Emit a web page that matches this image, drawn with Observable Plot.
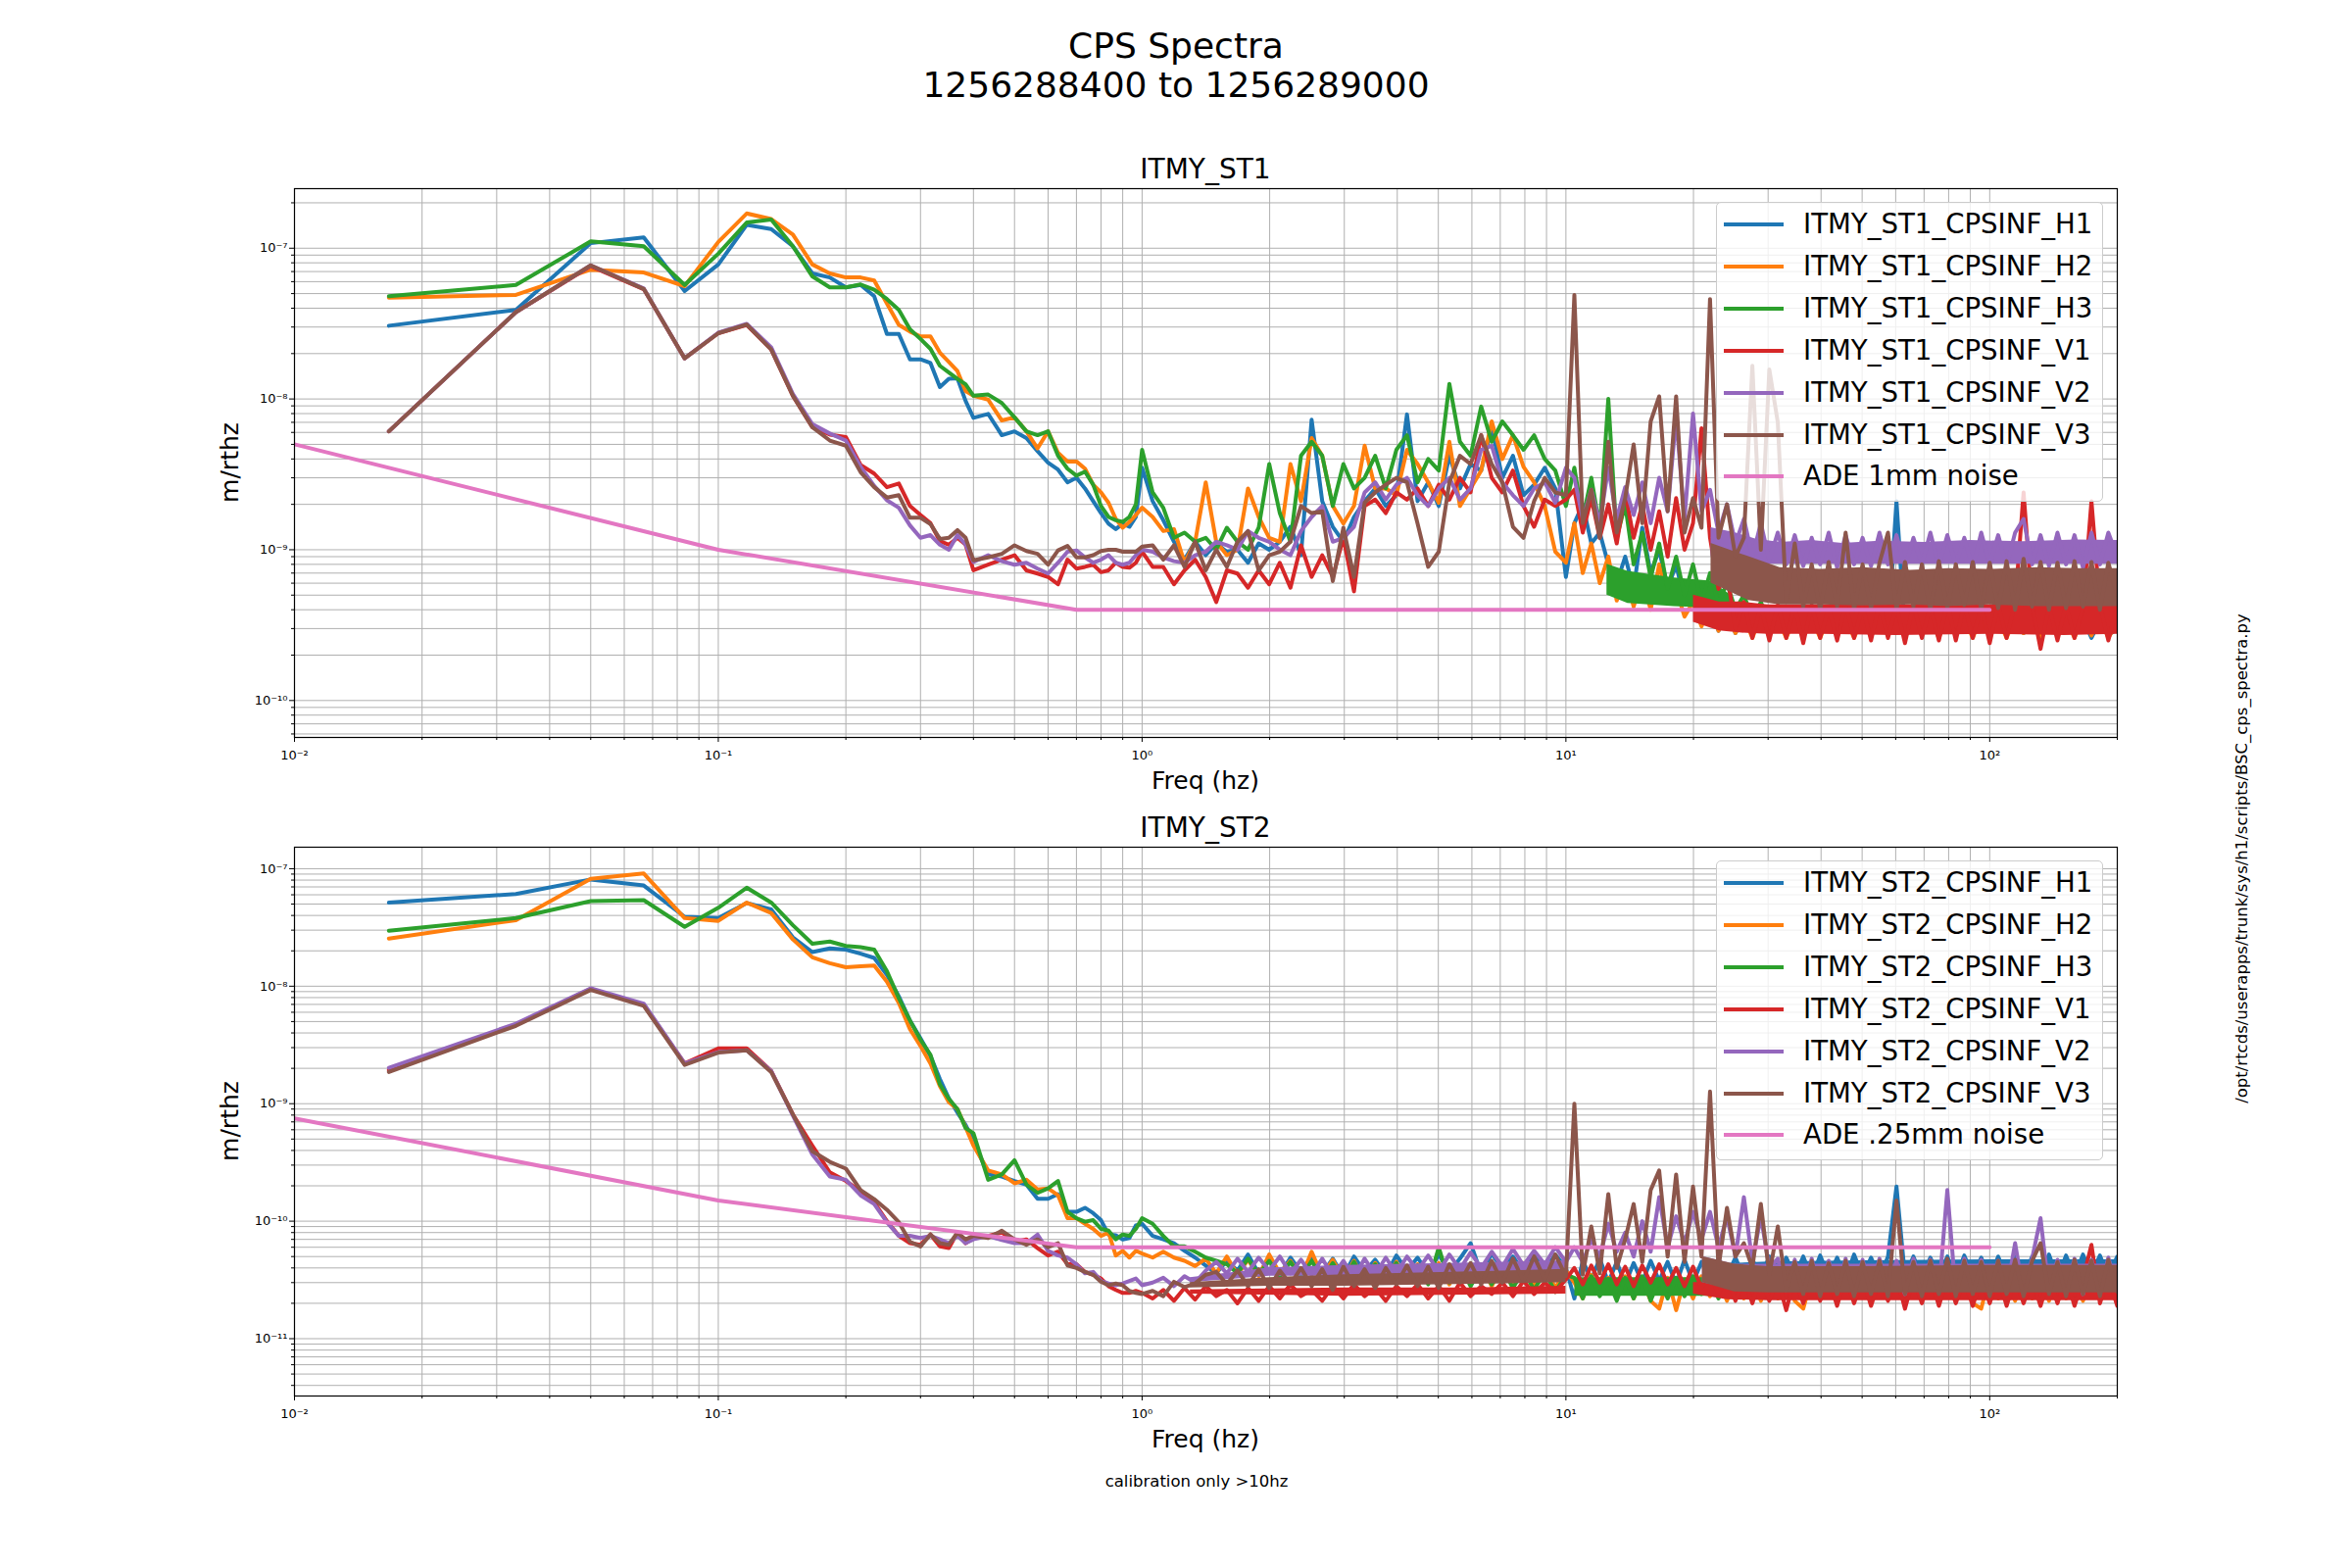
<!DOCTYPE html>
<html><head><meta charset="utf-8">
<script src="https://cdn.jsdelivr.net/npm/d3@7"></script>
<script src="https://cdn.jsdelivr.net/npm/@observablehq/plot@0.6"></script>
<style>
body{margin:0;background:#fff;}
#page{position:relative;width:2400px;height:1600px;overflow:hidden;background:#fff;font-family:"DejaVu Sans",sans-serif;color:#000}
.t{position:absolute;white-space:nowrap;line-height:1;transform:translate(-50%,-50%);}
.leg{position:absolute;background:rgba(255,255,255,0.8);border:1px solid #cccccc;border-radius:5px;box-sizing:border-box;}
.row{position:absolute;left:0;height:0;}
.sw{position:absolute;left:7px;width:61px;height:4px;top:-2px;}
.lt{position:absolute;left:88px;top:-14px;font-size:27.6px;line-height:28px;white-space:nowrap;}
svg{position:absolute;left:0;}
</style></head><body><div id="page"></div><script>
// ---------------- data ----------------
const FREQ = [
 0.0167,0.0333,0.05,0.0667,0.0833,0.1,0.1167,0.1333,0.15,0.1667,0.1833,0.2,0.2167,0.2333,0.25,0.2667,0.2833,0.3,0.3167,0.3333,0.35,0.3667,0.3833,0.4,
 0.4333,0.4667,0.5,0.5333,0.5667,0.6,0.6333,0.6667,0.7,0.7333,0.7667,0.8,0.8333,0.8667,0.9,0.9333,0.9667,1.0,
 1.059,1.122,1.189,1.259,1.334,1.413,1.496,1.585,1.679,1.778,1.884,1.995,2.113,2.239,2.371,2.512,2.661,2.818,2.985,3.162,
 3.350,3.548,3.758,3.981,4.217,4.467,4.732,5.012,5.309,5.623,5.957,6.310,6.683,7.079,7.499,7.943,8.414,8.913,9.441,10.0,
 10.47,10.96,11.48,12.02,12.59,13.18,13.80,14.45,15.14,15.85,16.60,17.38,18.20,19.05,19.95,20.89,21.88,22.91,23.99,25.12,
 26.30,27.54,28.84,30.20,31.62,33.11,34.67,36.31,38.02,39.81,41.69,43.65,45.71,47.86,50.12,52.48,54.95,57.54,60.26,63.10,
 66.07,69.18,72.44,75.86,79.43,83.18,87.10,91.20,95.50,100.0,104.7,109.6,114.8,120.2,125.9,131.8,138.0,144.5,151.4,158.5,
 166.0,173.8,182.0,190.5,200.0
];

// ITMY_ST1 (m/rtHz)
const ST1_H1 = [
 3.06e-8,3.9e-8,1.08e-7,1.18e-7,5.2e-8,7.8e-8,1.43e-7,1.34e-7,1.03e-7,6.8e-8,6.4e-8,5.5e-8,5.7e-8,4.8e-8,2.7e-8,2.7e-8,1.83e-8,1.83e-8,1.73e-8,1.2e-8,1.36e-8,1.37e-8,9.7e-9,7.5e-9,
 7.96e-9,5.75e-9,6.1e-9,5.5e-9,4.5e-9,3.78e-9,3.4e-9,2.8e-9,3.0e-9,2.55e-9,2.1e-9,1.75e-9,1.49e-9,1.37e-9,1.49e-9,1.42e-9,1.65e-9,3.5e-9,
 2.1e-9,1.57e-9,1.13e-9,8.6e-10,1.13e-9,9.2e-10,1.1e-9,9.7e-10,1.0e-9,8.2e-10,1.1e-9,1.0e-9,1.13e-9,1.42e-9,9.2e-10,7.3e-9,2.1e-9,1.42e-9,1.13e-9,1.65e-9,
 2.1e-9,2.55e-9,1.95e-9,2.3e-9,7.9e-9,2.1e-9,2.8e-9,1.95e-9,4.2e-9,2.55e-9,3.7e-9,3.35e-9,6.5e-9,3.0e-9,4.2e-9,2.3e-9,2.7e-9,3.5e-9,2.55e-9,6.6e-10,
 1.5e-9,2.0e-9,1.1e-9,1.3e-9,8e-10,6e-10,9e-10,5.5e-10,1.4e-9,7e-10,1.0e-9,5.5e-10,8e-10,4.5e-10,6e-10,3.3e-10,4.5e-10,2.9e-10,4e-10,2.8e-10,
 3.6e-10,2.7e-10,3.8e-10,2.8e-10,3.6e-10,2.7e-10,3.5e-10,2.7e-10,3.6e-10,2.8e-10,3.5e-10,2.7e-10,3.5e-10,2.8e-10,3.6e-10,2.7e-10,3.4e-10,2.8e-10,2.1e-9,2.8e-10,
 3.5e-10,2.7e-10,3.4e-10,2.7e-10,3.5e-10,2.8e-10,3.4e-10,2.7e-10,3.5e-10,2.8e-10,3.4e-10,2.7e-10,3.5e-10,2.8e-10,3.4e-10,2.7e-10,3.5e-10,2.8e-10,3.4e-10,2.7e-10,
 3.5e-10,2.6e-10,3.4e-10,2.7e-10,3.0e-10
];
const ST1_H2 = [
 4.7e-8,4.9e-8,7.2e-8,6.9e-8,5.6e-8,1.1e-7,1.7e-7,1.56e-7,1.23e-7,7.8e-8,6.8e-8,6.4e-8,6.4e-8,6.1e-8,4.3e-8,3.1e-8,2.8e-8,2.6e-8,2.6e-8,2.03e-8,1.76e-8,1.53e-8,1.13e-8,1.05e-8,
 9.9e-9,7.2e-9,7.55e-9,6.1e-9,4.7e-9,6.1e-9,4.4e-9,3.85e-9,3.85e-9,3.45e-9,2.7e-9,2.4e-9,2.05e-9,1.6e-9,1.4e-9,1.53e-9,1.7e-9,1.9e-9,
 1.65e-9,1.33e-9,1.37e-9,8.2e-10,1.13e-9,2.8e-9,1.13e-9,9.2e-10,1.0e-9,2.55e-9,1.65e-9,1.2e-9,1.13e-9,3.7e-9,2.1e-9,5.5e-9,4.2e-9,1.95e-9,1.49e-9,1.95e-9,
 4.9e-9,2.55e-9,2.55e-9,2.3e-9,4.6e-9,3.7e-9,2.8e-9,2.05e-9,5.2e-9,1.95e-9,2.55e-9,3.35e-9,7.1e-9,4.0e-9,5.75e-9,3.55e-9,2.8e-9,1.95e-9,9.7e-10,8.2e-10,
 1.5e-9,7e-10,1.1e-9,6e-10,9e-10,4.6e-10,7e-10,4.2e-10,6.5e-10,4e-10,8e-10,4.5e-10,5.5e-10,3.6e-10,4.5e-10,3.1e-10,4.2e-10,2.9e-10,3.8e-10,2.8e-10,
 3.6e-10,2.6e-10,3.7e-10,2.7e-10,3.5e-10,2.6e-10,3.6e-10,2.8e-10,3.5e-10,2.6e-10,3.7e-10,2.7e-10,3.5e-10,2.6e-10,3.6e-10,2.7e-10,3.5e-10,2.8e-10,3.6e-10,2.6e-10,
 3.5e-10,2.7e-10,3.6e-10,2.6e-10,3.7e-10,2.7e-10,3.5e-10,2.6e-10,3.6e-10,2.7e-10,3.5e-10,2.6e-10,3.6e-10,2.8e-10,3.5e-10,2.6e-10,3.6e-10,2.7e-10,3.5e-10,2.6e-10,
 3.7e-10,2.7e-10,3.5e-10,2.6e-10,3.3e-10
];
const ST1_H3 = [
 4.8e-8,5.7e-8,1.11e-7,1.03e-7,5.7e-8,9.2e-8,1.48e-7,1.55e-7,1.03e-7,6.5e-8,5.5e-8,5.5e-8,5.75e-8,5.3e-8,4.6e-8,3.9e-8,2.9e-8,2.5e-8,2.15e-8,1.66e-8,1.5e-8,1.36e-8,1.25e-8,1.05e-8,
 1.07e-8,9.4e-9,7.55e-9,6.1e-9,5.75e-9,6.1e-9,4.2e-9,3.45e-9,3.1e-9,3.3e-9,2.7e-9,1.95e-9,1.65e-9,1.57e-9,1.53e-9,1.65e-9,2.0e-9,4.6e-9,
 2.4e-9,1.9e-9,1.2e-9,1.3e-9,1.13e-9,1.2e-9,1.0e-9,1.4e-9,1.13e-9,1.0e-9,1.4e-9,3.7e-9,1.75e-9,1.13e-9,4.2e-9,5.2e-9,4.2e-9,1.95e-9,3.7e-9,2.55e-9,
 3.0e-9,4.2e-9,2.55e-9,4.6e-9,5.75e-9,2.8e-9,4.0e-9,3.35e-9,1.26e-8,5.2e-9,4.2e-9,8.9e-9,5.2e-9,7.1e-9,5.75e-9,4.6e-9,5.75e-9,4.0e-9,3.35e-9,1.95e-9,
 3.5e-9,1.6e-9,3.0e-9,1.4e-9,1.0e-8,1.2e-9,2.0e-9,8e-10,1.3e-9,6.5e-10,1.1e-9,5.5e-10,9e-10,5e-10,8e-10,4.5e-10,7e-10,4.4e-10,6e-10,4e-10,
 5e-10,3.5e-10,4.5e-10,3.2e-10,4.2e-10,3e-10,4e-10,3.1e-10,4.1e-10,3e-10,4e-10,3.1e-10,4.1e-10,3e-10,4e-10,3.1e-10,4.1e-10,3e-10,4e-10,3.1e-10,
 4.1e-10,3e-10,4e-10,3.1e-10,4.1e-10,3e-10,4e-10,3.1e-10,4.1e-10,3e-10,4e-10,3.1e-10,4.1e-10,3e-10,4e-10,3.1e-10,4.1e-10,3e-10,4e-10,3.1e-10,
 4.1e-10,3e-10,4e-10,3.1e-10,3.5e-10
];
const ST1_V1 = [
 6.1e-9,3.77e-8,7.6e-8,5.35e-8,1.86e-8,2.73e-8,3.1e-8,2.13e-8,1.05e-8,6.5e-9,5.8e-9,5.6e-9,3.65e-9,3.2e-9,2.6e-9,2.75e-9,1.95e-9,1.7e-9,1.5e-9,1.14e-9,1.08e-9,1.2e-9,1.08e-9,7.3e-10,
 7.96e-10,8.6e-10,9.2e-10,7.3e-10,6.95e-10,6.6e-10,5.9e-10,8.6e-10,7.5e-10,7.7e-10,7.96e-10,7.1e-10,7.3e-10,8.2e-10,7.7e-10,7.6e-10,8.2e-10,9.7e-10,
 7.7e-10,7.7e-10,5.9e-10,7.3e-10,8.6e-10,6.6e-10,4.5e-10,7.3e-10,6.95e-10,5.6e-10,7.3e-10,5.9e-10,8.2e-10,5.6e-10,1.07e-9,6.6e-10,9.2e-10,6.6e-10,1.2e-9,5.3e-10,
 1.95e-9,2.15e-9,1.75e-9,2.4e-9,2.15e-9,2.55e-9,1.95e-9,2.7e-9,2.15e-9,3.0e-9,2.4e-9,5.75e-9,3.0e-9,2.4e-9,3.35e-9,1.95e-9,1.42e-9,2.15e-9,1.95e-9,2.15e-9,
 2.5e-9,1.3e-9,2.2e-9,1.2e-9,2.0e-9,1.1e-9,2.4e-9,1.2e-9,2.0e-9,1.0e-9,1.8e-9,9e-10,2.2e-9,1.0e-9,1.5e-9,6.4e-9,1.2e-9,5.5e-10,7e-10,3.0e-10,
 4.5e-10,2.6e-10,4.2e-10,2.5e-10,4.3e-10,2.6e-10,4.2e-10,2.4e-10,4.3e-10,2.6e-10,4.1e-10,2.5e-10,4.3e-10,2.6e-10,4.2e-10,2.5e-10,4.4e-10,2.6e-10,4.2e-10,2.4e-10,
 4.3e-10,2.6e-10,4.2e-10,2.5e-10,4.4e-10,2.5e-10,4.3e-10,2.6e-10,4.2e-10,2.4e-10,4.3e-10,2.6e-10,4.4e-10,2.4e-9,4.3e-10,2.2e-10,4.2e-10,2.5e-10,4.3e-10,2.6e-10,
 4.1e-10,2.1e-9,4.3e-10,2.5e-10,4.2e-10
];
const ST1_V2 = [
 6.1e-9,3.77e-8,7.7e-8,5.4e-8,1.86e-8,2.75e-8,3.15e-8,2.2e-8,1.08e-8,6.8e-9,5.9e-9,5.3e-9,3.55e-9,2.65e-9,2.13e-9,1.9e-9,1.45e-9,1.2e-9,1.25e-9,1.08e-9,1.0e-9,1.25e-9,1.08e-9,8.3e-10,
 9.2e-10,8.4e-10,7.96e-10,8.2e-10,7.5e-10,6.95e-10,8.2e-10,9.7e-10,9.9e-10,8.9e-10,8.2e-10,8.6e-10,9.2e-10,8.2e-10,7.96e-10,8.2e-10,9.2e-10,1.0e-9,
 9.7e-10,8.9e-10,8.4e-10,8.2e-10,9.2e-10,9.7e-10,1.13e-9,1.07e-9,1.0e-9,1.33e-9,1.2e-9,1.13e-9,1.0e-9,9.2e-10,1.33e-9,1.65e-9,1.95e-9,1.13e-9,1.2e-9,1.42e-9,
 2.4e-9,2.8e-9,2.15e-9,2.7e-9,3.0e-9,2.3e-9,1.95e-9,2.55e-9,3.0e-9,2.15e-9,2.55e-9,4.6e-9,4.9e-9,2.8e-9,2.3e-9,1.95e-9,2.55e-9,2.8e-9,2.05e-9,3.5e-9,
 3.0e-9,1.6e-9,2.5e-9,1.5e-9,3.5e-9,1.6e-9,2.6e-9,1.7e-9,2.8e-9,1.5e-9,3.0e-9,1.8e-9,7.6e-9,1.6e-9,8.0e-9,1.8e-9,2.5e-9,1.3e-9,2.0e-9,1.1e-9,
 1.6e-9,9e-10,1.5e-9,8.5e-10,1.3e-9,8e-10,1.25e-9,7.8e-10,1.2e-9,8e-10,1.3e-9,7.6e-10,1.25e-9,8e-10,1.2e-9,7.8e-10,1.3e-9,8e-10,1.25e-9,7.6e-10,
 1.2e-9,8e-10,1.3e-9,7.8e-10,1.25e-9,8e-10,1.2e-9,7.6e-10,1.3e-9,8e-10,1.25e-9,7.8e-10,1.3e-9,1.6e-9,8e-10,1.25e-9,7.8e-10,1.3e-9,8e-10,1.25e-9,
 7.6e-10,1.3e-9,8e-10,1.3e-9,9e-10
];
const ST1_V3 = [
 6.1e-9,3.77e-8,7.7e-8,5.37e-8,1.86e-8,2.73e-8,3.12e-8,2.13e-8,1.05e-8,6.5e-9,5.3e-9,4.9e-9,3.27e-9,2.6e-9,2.22e-9,2.3e-9,1.63e-9,1.63e-9,1.48e-9,1.18e-9,1.2e-9,1.35e-9,1.2e-9,8.5e-10,
 8.9e-10,9.4e-10,1.07e-9,9.8e-10,9.4e-10,7.96e-10,9.9e-10,1.06e-9,8.9e-10,8.9e-10,9.2e-10,9.8e-10,1.0e-9,1.0e-9,9.7e-10,9.7e-10,9.7e-10,1.05e-9,
 1.07e-9,8.6e-10,1.07e-9,7.7e-10,1.13e-9,7.3e-10,1.0e-9,7.7e-10,1.13e-9,1.33e-9,7.3e-10,9.2e-10,9.7e-10,1.13e-9,1.95e-9,1.75e-9,1.8e-9,6.2e-10,1.4e-9,6.6e-10,
 2.05e-9,2.4e-9,2.7e-9,3.0e-9,2.8e-9,1.49e-9,7.7e-10,9.7e-10,2.8e-9,4.2e-9,3.7e-9,5.75e-9,3.7e-9,2.8e-9,1.42e-9,1.2e-9,2.1e-9,3.0e-9,2.4e-9,2.3e-9,
 4.9e-8,1.5e-9,2.5e-9,1.2e-9,5.2e-9,1.3e-9,2.2e-9,5.0e-9,1.5e-9,7.1e-9,1.04e-8,1.8e-9,1.04e-8,1.3e-9,2.2e-9,1.4e-9,4.6e-8,1.2e-9,2.0e-9,9e-10,
 1.2e-9,1.66e-8,1.0e-9,1.57e-8,7e-9,4.5e-10,1.1e-9,4.2e-10,8e-10,4e-10,8.3e-10,4.2e-10,1.3e-9,4e-10,8e-10,4.1e-10,8.2e-10,1.3e-9,4.0e-10,8.3e-10,
 4.2e-10,8e-10,4e-10,8.4e-10,4.1e-10,8e-10,4.3e-10,8.3e-10,4e-10,8.2e-10,4.1e-10,8.4e-10,4e-10,8.7e-10,4.2e-10,8.3e-10,4e-10,8.2e-10,4.1e-10,8.4e-10,
 4.2e-10,8.3e-10,4e-10,8.2e-10,5e-10
];

// ITMY_ST2 (m/rtHz)
const ST2_H1 = [
 5.15e-8,6.1e-8,8.1e-8,7.2e-8,3.9e-8,3.8e-8,5.1e-8,4.5e-8,2.6e-8,1.95e-8,2.1e-8,2.05e-8,1.89e-8,1.74e-8,1.25e-8,8.2e-9,5.1e-9,3.6e-9,2.55e-9,1.62e-9,1.11e-9,8.4e-10,6.6e-10,4.8e-10,
 2.5e-10,2.4e-10,2.2e-10,2.05e-10,1.55e-10,1.55e-10,1.7e-10,1.2e-10,1.2e-10,1.3e-10,1.17e-10,1.02e-10,7.7e-11,7.6e-11,7e-11,7.2e-11,9.2e-11,9.5e-11,
 7.5e-11,7e-11,6.5e-11,5.6e-11,4.9e-11,4.2e-11,3.6e-11,4.6e-11,3.8e-11,5.2e-11,3.6e-11,4.8e-11,3.5e-11,4.9e-11,3.7e-11,5.0e-11,3.6e-11,4.8e-11,3.4e-11,5.0e-11,
 3.7e-11,4.7e-11,3.5e-11,5.1e-11,3.8e-11,4.9e-11,3.6e-11,5.2e-11,3.7e-11,4.8e-11,6.5e-11,3.6e-11,5.3e-11,3.9e-11,5.0e-11,3.7e-11,5.5e-11,3.8e-11,5.2e-11,4.0e-11,
 2.2e-11,4.6e-11,3.2e-11,4.8e-11,3.0e-11,4.5e-11,2.9e-11,4.4e-11,3.0e-11,4.6e-11,3.1e-11,4.5e-11,2.9e-11,4.7e-11,3.0e-11,4.5e-11,3.2e-11,4.8e-11,3.4e-11,4.9e-11,
 3.3e-11,4.7e-11,3.4e-11,5.0e-11,3.3e-11,4.9e-11,3.4e-11,5.0e-11,3.3e-11,5.1e-11,3.4e-11,4.9e-11,3.3e-11,5.2e-11,3.4e-11,4.9e-11,3.3e-11,5.0e-11,1.97e-10,3.4e-11,
 5.0e-11,3.3e-11,4.9e-11,3.4e-11,5.0e-11,3.3e-11,5.1e-11,3.4e-11,4.9e-11,3.3e-11,5.0e-11,3.4e-11,5.1e-11,3.3e-11,5.0e-11,3.4e-11,5.2e-11,3.3e-11,5.1e-11,3.4e-11,
 5.2e-11,3.5e-11,5.1e-11,3.4e-11,5.0e-11
];
const ST2_H2 = [
 2.54e-8,3.65e-8,8.2e-8,9.1e-8,3.8e-8,3.6e-8,5.15e-8,4.2e-8,2.5e-8,1.76e-8,1.57e-8,1.45e-8,1.48e-8,1.5e-8,1.09e-8,7.2e-9,4.3e-9,3.1e-9,2.2e-9,1.41e-9,1.03e-9,9e-10,6.3e-10,4.4e-10,
 2.7e-10,2.5e-10,2.1e-10,2.25e-10,1.86e-10,1.9e-10,1.66e-10,1.06e-10,1.06e-10,9.5e-11,8.6e-11,7.5e-11,8e-11,5.1e-11,5.6e-11,4.9e-11,5.6e-11,5.3e-11,
 4.9e-11,5.5e-11,4.9e-11,4.6e-11,4.15e-11,4.8e-11,3.6e-11,5.0e-11,3.5e-11,4.7e-11,3.4e-11,5.2e-11,3.6e-11,4.6e-11,3.3e-11,5.5e-11,3.4e-11,4.7e-11,3.2e-11,4.6e-11,
 3.0e-11,4.4e-11,3.1e-11,4.5e-11,3.0e-11,4.3e-11,3.0e-11,4.4e-11,2.9e-11,4.2e-11,3.0e-11,4.3e-11,2.8e-11,4.2e-11,2.7e-11,4.4e-11,2.9e-11,4.1e-11,2.7e-11,3.8e-11,
 3.0e-11,2.2e-11,3.5e-11,2.4e-11,3.3e-11,2.3e-11,3.4e-11,2.2e-11,3.2e-11,2.1e-11,1.8e-11,3.3e-11,1.75e-11,3.2e-11,2.2e-11,3.4e-11,2.3e-11,3.3e-11,2.1e-11,3.2e-11,
 2.2e-11,3.4e-11,2.1e-11,3.5e-11,2.2e-11,3.4e-11,2.1e-11,1.8e-11,3.3e-11,2.2e-11,3.5e-11,2.1e-11,3.4e-11,2.2e-11,3.6e-11,2.1e-11,3.5e-11,2.2e-11,3.4e-11,2.1e-11,
 3.6e-11,2.2e-11,3.4e-11,2.1e-11,3.5e-11,2.2e-11,3.3e-11,2.0e-11,1.8e-11,3.5e-11,2.2e-11,3.4e-11,2.1e-11,3.5e-11,2.2e-11,3.4e-11,2.1e-11,3.6e-11,2.2e-11,3.4e-11,
 2.1e-11,3.5e-11,2.2e-11,3.4e-11,2.6e-11
];
const ST2_H3 = [
 2.96e-8,3.8e-8,5.3e-8,5.4e-8,3.2e-8,4.65e-8,6.9e-8,5.15e-8,3.3e-8,2.3e-8,2.4e-8,2.2e-8,2.15e-8,2.05e-8,1.34e-8,7.9e-9,5.1e-9,3.5e-9,2.6e-9,1.46e-9,1.1e-9,9e-10,6.2e-10,5.6e-10,
 2.25e-10,2.5e-10,3.3e-10,2.05e-10,1.74e-10,1.9e-10,2.2e-10,1.2e-10,1.06e-10,9.9e-11,1.02e-10,8.6e-11,8.3e-11,7e-11,7.7e-11,7.5e-11,8.6e-11,1.06e-10,
 9.5e-11,7.5e-11,6.1e-11,6.1e-11,5.5e-11,4.9e-11,4.6e-11,4.3e-11,3.6e-11,4.8e-11,3.5e-11,4.6e-11,3.4e-11,4.5e-11,3.3e-11,4.6e-11,3.2e-11,4.4e-11,3.1e-11,4.5e-11,
 3.0e-11,4.3e-11,3.1e-11,4.4e-11,3.0e-11,4.2e-11,2.9e-11,6.0e-11,3.0e-11,4.2e-11,2.8e-11,4.0e-11,2.9e-11,4.1e-11,2.7e-11,3.8e-11,2.6e-11,3.7e-11,2.5e-11,3.5e-11,
 3.3e-11,2.2e-11,3.4e-11,2.3e-11,3.2e-11,2.1e-11,3.3e-11,2.2e-11,3.4e-11,2.1e-11,3.2e-11,2.2e-11,3.3e-11,2.3e-11,3.4e-11,2.4e-11,3.3e-11,2.2e-11,3.3e-11,2.3e-11,
 3.4e-11,2.3e-11,3.3e-11,2.4e-11,3.3e-11,2.3e-11,3.4e-11,2.3e-11,3.3e-11,2.4e-11,3.3e-11,2.3e-11,3.4e-11,2.3e-11,3.3e-11,2.4e-11,3.3e-11,2.3e-11,3.4e-11,2.3e-11,
 3.3e-11,2.4e-11,3.3e-11,2.3e-11,3.4e-11,2.3e-11,3.3e-11,2.4e-11,3.3e-11,2.3e-11,3.4e-11,2.3e-11,3.3e-11,2.4e-11,3.3e-11,2.3e-11,3.4e-11,2.3e-11,3.3e-11,2.4e-11,
 3.3e-11,2.3e-11,3.4e-11,2.3e-11,3.0e-11
];
const ST2_V1 = [
 1.93e-9,4.7e-9,9.5e-9,6.9e-9,2.2e-9,2.96e-9,2.96e-9,1.9e-9,8.1e-10,4.4e-10,2.6e-10,2.2e-10,1.8e-10,1.45e-10,1.0e-10,7.5e-11,6.5e-11,6.3e-11,7.7e-11,6.1e-11,5.9e-11,8e-11,6.5e-11,7.2e-11,
 7.5e-11,8e-11,6.7e-11,7e-11,5.9e-11,5.1e-11,5.5e-11,4.3e-11,4.3e-11,3.7e-11,3.5e-11,3.25e-11,2.8e-11,2.6e-11,2.45e-11,2.45e-11,2.55e-11,2.45e-11,
 2.2e-11,2.6e-11,2.1e-11,2.7e-11,2.15e-11,2.8e-11,2.3e-11,2.6e-11,2.0e-11,2.7e-11,2.1e-11,2.8e-11,2.2e-11,2.9e-11,2.3e-11,2.6e-11,2.1e-11,2.8e-11,2.2e-11,2.9e-11,
 2.3e-11,2.7e-11,2.1e-11,2.8e-11,2.3e-11,2.9e-11,2.2e-11,2.8e-11,2.1e-11,3.0e-11,2.3e-11,2.8e-11,2.4e-11,3.0e-11,2.3e-11,3.1e-11,2.4e-11,3.0e-11,2.5e-11,3.2e-11,
 4.0e-11,2.9e-11,4.2e-11,3.0e-11,4.3e-11,2.9e-11,4.1e-11,2.8e-11,4.2e-11,3.0e-11,4.3e-11,2.9e-11,4.0e-11,2.8e-11,4.1e-11,2.7e-11,3.6e-11,2.4e-11,3.4e-11,2.1e-11,
 3.3e-11,2.0e-11,3.4e-11,2.1e-11,3.2e-11,1.75e-11,3.3e-11,2.0e-11,3.4e-11,2.1e-11,3.3e-11,1.9e-11,3.4e-11,2.0e-11,3.3e-11,1.9e-11,3.2e-11,2.1e-11,3.4e-11,1.8e-11,
 3.3e-11,2.0e-11,3.4e-11,1.9e-11,3.3e-11,2.0e-11,3.2e-11,1.9e-11,3.3e-11,2.0e-11,3.4e-11,1.9e-11,3.3e-11,2.0e-11,3.2e-11,1.9e-11,3.3e-11,2.0e-11,3.4e-11,1.9e-11,
 3.2e-11,6.3e-11,2.0e-11,3.3e-11,1.9e-11
];
const ST2_V2 = [
 2.02e-9,4.8e-9,9.6e-9,7.1e-9,2.2e-9,2.75e-9,2.85e-9,1.9e-9,7.9e-10,3.7e-10,2.4e-10,2.25e-10,1.66e-10,1.4e-10,9.8e-11,7.5e-11,7.5e-11,7.2e-11,7.5e-11,7e-11,6.5e-11,7.5e-11,6.5e-11,7e-11,
 7.5e-11,6.9e-11,6.5e-11,6.5e-11,7.7e-11,5.6e-11,5.1e-11,4.9e-11,4.3e-11,3.6e-11,3.7e-11,3.1e-11,2.95e-11,2.85e-11,2.95e-11,3.1e-11,3.25e-11,2.85e-11,
 3.0e-11,3.3e-11,2.8e-11,3.4e-11,3.0e-11,3.8e-11,4.5e-11,3.6e-11,4.8e-11,3.7e-11,4.9e-11,3.8e-11,5.0e-11,3.6e-11,4.7e-11,3.5e-11,4.8e-11,3.4e-11,4.6e-11,3.3e-11,
 4.8e-11,3.5e-11,4.9e-11,3.6e-11,5.0e-11,3.8e-11,5.1e-11,3.7e-11,5.2e-11,3.9e-11,5.4e-11,4.0e-11,5.5e-11,4.1e-11,5.8e-11,4.2e-11,5.6e-11,4.3e-11,6.0e-11,4.5e-11,
 6e-11,4.5e-11,7e-11,5.0e-11,9.5e-11,5.5e-11,8e-11,5.0e-11,1.0e-10,5.5e-11,1.6e-10,6e-11,1.1e-10,6.5e-11,1.2e-10,7e-11,1.2e-10,6e-11,1.1e-10,5e-11,
 1.6e-10,4.5e-11,1.1e-10,4.0e-11,4.8e-11,2.6e-11,4.7e-11,2.5e-11,4.8e-11,2.4e-11,4.6e-11,2.5e-11,4.8e-11,2.4e-11,4.7e-11,2.6e-11,4.8e-11,2.5e-11,4.6e-11,2.4e-11,
 4.8e-11,2.6e-11,4.7e-11,2.5e-11,1.84e-10,2.4e-11,4.8e-11,2.5e-11,4.7e-11,2.6e-11,4.6e-11,2.5e-11,6.5e-11,2.4e-11,4.8e-11,1.06e-10,2.5e-11,4.7e-11,2.6e-11,4.8e-11,
 2.4e-11,4.7e-11,2.5e-11,4.9e-11,2.6e-11
];
const ST2_V3 = [
 1.86e-9,4.6e-9,9.3e-9,6.8e-9,2.14e-9,2.72e-9,2.85e-9,1.86e-9,8.1e-10,3.94e-10,3.2e-10,2.8e-10,1.84e-10,1.54e-10,1.25e-10,9.8e-11,6.7e-11,6.1e-11,7.7e-11,6.5e-11,6.3e-11,8e-11,7e-11,7.5e-11,
 7.2e-11,8.3e-11,7e-11,6.3e-11,7e-11,6e-11,6.5e-11,4.2e-11,4e-11,3.7e-11,3.5e-11,3.05e-11,2.85e-11,2.95e-11,2.85e-11,2.55e-11,2.45e-11,2.4e-11,
 2.55e-11,2.3e-11,3.05e-11,2.75e-11,2.95e-11,3.5e-11,3.7e-11,2.9e-11,3.8e-11,2.8e-11,3.9e-11,2.7e-11,3.8e-11,2.9e-11,4.0e-11,2.8e-11,3.9e-11,2.6e-11,4.1e-11,2.8e-11,
 3.9e-11,2.7e-11,4.0e-11,2.9e-11,4.2e-11,2.8e-11,4.1e-11,2.7e-11,4.3e-11,3.0e-11,4.4e-11,2.9e-11,4.6e-11,3.0e-11,4.8e-11,3.1e-11,5.0e-11,3.2e-11,5.2e-11,3.4e-11,
 1.0e-9,3.5e-11,9e-11,3.6e-11,1.7e-10,4e-11,7e-11,1.4e-10,4.5e-11,1.84e-10,2.7e-10,5e-11,2.5e-10,4.5e-11,1.97e-10,5e-11,1.27e-9,4e-11,1.3e-10,5e-11,
 6.5e-11,4e-11,1.4e-10,3.5e-11,9e-11,2.6e-11,4.5e-11,2.4e-11,4.6e-11,2.3e-11,4.4e-11,2.4e-11,4.6e-11,2.3e-11,4.5e-11,2.4e-11,4.6e-11,2.3e-11,1.5e-10,2.4e-11,
 4.5e-11,2.3e-11,4.6e-11,2.4e-11,4.8e-11,2.3e-11,4.6e-11,2.4e-11,4.5e-11,2.3e-11,4.6e-11,2.4e-11,4.7e-11,2.3e-11,4.6e-11,6.5e-11,2.4e-11,4.5e-11,2.3e-11,4.7e-11,
 2.4e-11,4.6e-11,2.3e-11,4.7e-11,2.5e-11
];

// Dense noise floors where the spectra fill a band (edges, m/rtHz)
const ST1_H3_BAND = {f: [12.5, 14, 18, 22, 24.5], lo: [5.0e-10, 4.4e-10, 4.2e-10, 4.1e-10, 4.2e-10], hi: [8.0e-10, 7.2e-10, 6.5e-10, 6.2e-10, 5.0e-10]};
const ST1_V1_BAND = {f: [20, 23, 26, 30, 40, 60, 100, 150, 200], lo: [3.3e-10, 2.9e-10, 2.8e-10, 2.75e-10, 2.75e-10, 2.7e-10, 2.75e-10, 2.7e-10, 2.75e-10], hi: [5.0e-10, 4.5e-10, 4.5e-10, 4.3e-10, 4.3e-10, 4.3e-10, 4.3e-10, 4.3e-10, 4.3e-10]};
const ST1_V2_BAND = {f: [22, 25, 28, 32, 38, 45, 55, 70, 90, 120, 160, 200], lo: [9.0e-10, 8.5e-10, 8.0e-10, 8.0e-10, 8.0e-10, 8.0e-10, 8.0e-10, 8.0e-10, 8.0e-10, 8.0e-10, 8.0e-10, 8.0e-10], hi: [1.4e-9, 1.3e-9, 1.18e-9, 1.12e-9, 1.15e-9, 1.1e-9, 1.14e-9, 1.12e-9, 1.15e-9, 1.13e-9, 1.16e-9, 1.15e-9]};
const ST1_V3_BAND = {f: [22, 27, 32, 40, 50, 65, 80, 100, 130, 160, 200], lo: [6.0e-10, 4.6e-10, 4.3e-10, 4.3e-10, 4.25e-10, 4.3e-10, 4.2e-10, 4.3e-10, 4.2e-10, 4.2e-10, 4.2e-10], hi: [1.1e-9, 9.0e-10, 7.6e-10, 7.4e-10, 7.6e-10, 7.3e-10, 7.5e-10, 7.4e-10, 7.6e-10, 7.5e-10, 7.5e-10]};
const ST2_H1_BAND = {f: [22, 30, 50, 100, 200], lo: [3.4e-11, 3.4e-11, 3.4e-11, 3.4e-11, 3.4e-11], hi: [4.3e-11, 4.5e-11, 4.6e-11, 4.7e-11, 4.7e-11]};
const ST2_H3_BAND = {f: [10.5, 16, 24], lo: [2.3e-11, 2.3e-11, 2.3e-11], hi: [3.3e-11, 3.3e-11, 3.3e-11]};
const ST2_V1_BAND_MID = {f: [1.3, 3, 6, 10], lo: [2.4e-11, 2.3e-11, 2.35e-11, 2.4e-11], hi: [2.6e-11, 2.7e-11, 2.7e-11, 2.8e-11]};
const ST2_V1_BAND = {f: [20, 24, 30, 50, 100, 200], lo: [2.4e-11, 2.15e-11, 2.1e-11, 2.1e-11, 2.1e-11, 2.1e-11], hi: [3.0e-11, 3.0e-11, 3.0e-11, 3.0e-11, 3.0e-11, 3.0e-11]};
const ST2_V2_BAND_MID = {f: [1.3, 2, 3, 6, 10], lo: [3.0e-11, 3.4e-11, 3.4e-11, 3.5e-11, 3.6e-11], hi: [3.3e-11, 4.0e-11, 4.2e-11, 4.4e-11, 4.6e-11]};
const ST2_V2_BAND = {f: [21, 25, 50, 100, 200], lo: [3.0e-11, 2.6e-11, 2.6e-11, 2.6e-11, 2.6e-11], hi: [5.0e-11, 4.3e-11, 4.3e-11, 4.3e-11, 4.3e-11]};
const ST2_V3_BAND_MID = {f: [1.3, 2, 3, 6, 10], lo: [2.7e-11, 2.8e-11, 2.8e-11, 2.9e-11, 3.0e-11], hi: [3.0e-11, 3.3e-11, 3.5e-11, 3.7e-11, 3.9e-11]};
const ST2_V3_BAND = {f: [21, 25, 30, 50, 100, 200], lo: [3.0e-11, 2.5e-11, 2.45e-11, 2.45e-11, 2.45e-11, 2.45e-11], hi: [5.0e-11, 4.3e-11, 4.1e-11, 4.1e-11, 4.2e-11, 4.2e-11]};

// ADE noise references
const ADE_FREQ = [0.01, 0.1, 0.7, 100];
const ADE_1MM = [5.0e-9, 1.0e-9, 4.0e-10, 4.0e-10];
const ADE_025MM = [7.5e-10, 1.5e-10, 6.0e-11, 6.0e-11];

const ST1_NAMES = ["ITMY_ST1_CPSINF_H1","ITMY_ST1_CPSINF_H2","ITMY_ST1_CPSINF_H3","ITMY_ST1_CPSINF_V1","ITMY_ST1_CPSINF_V2","ITMY_ST1_CPSINF_V3","ADE 1mm noise"];
const ST2_NAMES = ["ITMY_ST2_CPSINF_H1","ITMY_ST2_CPSINF_H2","ITMY_ST2_CPSINF_H3","ITMY_ST2_CPSINF_V1","ITMY_ST2_CPSINF_V2","ITMY_ST2_CPSINF_V3","ADE .25mm noise"];
const COLORS = ["#1f77b4","#ff7f0e","#2ca02c","#d62728","#9467bd","#8c564b","#e377c2"];

const X_MAJOR = [0.01, 0.1, 1, 10, 100];
const X_LABELS = ["10\u207B\u00B2","10\u207B\u00B9","10\u2070","10\u00B9","10\u00B2"];
const Y1_MAJOR = [1e-10, 1e-9, 1e-8, 1e-7];
const Y1_LABELS = ["10\u207B\u00B9\u2070","10\u207B\u2079","10\u207B\u2078","10\u207B\u2077"];
const Y2_MAJOR = [1e-11, 1e-10, 1e-9, 1e-8, 1e-7];
const Y2_LABELS = ["10\u207B\u00B9\u00B9","10\u207B\u00B9\u2070","10\u207B\u2079","10\u207B\u2078","10\u207B\u2077"];

// ---------------- drawing ----------------
function minorTicks(e0, e1, lo, hi) {
  const out = [];
  for (let e = e0; e <= e1; e++) for (let m = 2; m <= 9; m++) {
    const v = +(m * Math.pow(10, e)).toPrecision(3);
    if (v >= lo && v <= hi) out.push(v);
  }
  return out;
}
const X_DOMAIN = [0.01, 200];
const X_MINOR = minorTicks(-2, 2, X_DOMAIN[0], X_DOMAIN[1]);
const LW = 4;

function panel(seriesVals, bands, ade, yDomain, yMajor, yLabels, eRange) {
  const yMinor = minorTicks(eRange[0], eRange[1], yDomain[0], yDomain[1]);
  const grid = {stroke: "#b0b0b0", strokeOpacity: 1, strokeWidth: 1};
  const marks = [
    Plot.gridX([...X_MAJOR, ...X_MINOR], grid),
    Plot.gridY([...yMajor, ...yMinor], grid)
  ];
  seriesVals.forEach((vals, k) => {
    (bands[k] || []).forEach(b => {
      const brows = b.f.map((f, i) => ({f, lo: b.lo[i], hi: b.hi[i]}));
      marks.push(Plot.areaY(brows, {x: "f", y1: "lo", y2: "hi", fill: COLORS[k], fillOpacity: 1, clip: true}));
    });
    const rows = FREQ.map((f, i) => ({f, v: vals[i]})).filter(d => d.v != null);
    marks.push(Plot.line(rows, {x: "f", y: "v", stroke: COLORS[k], strokeWidth: LW, clip: true}));
  });
  marks.push(Plot.line(ADE_FREQ.map((f, i) => ({f, v: ade[i]})), {x: "f", y: "v", stroke: COLORS[6], strokeWidth: LW, clip: true}));
  marks.push(Plot.frame({stroke: "#000", strokeWidth: 1.2}));
  marks.push(Plot.axisX(X_MAJOR, {tickSize: 5, tickPadding: 8, fontSize: 13, label: null, tickFormat: d => X_LABELS[X_MAJOR.indexOf(d)]}));
  marks.push(Plot.axisX(X_MINOR, {tickSize: 3, label: null, tickFormat: () => ""}));
  marks.push(Plot.axisY(yMajor, {tickSize: 5, tickPadding: 2, fontSize: 13, label: null, tickFormat: d => yLabels[yMajor.indexOf(d)]}));
  marks.push(Plot.axisY(yMinor, {tickSize: 3, label: null, tickFormat: () => ""}));
  return Plot.plot({
    width: 2400, height: 672,
    marginLeft: 300, marginRight: 240, marginTop: 42, marginBottom: 70,
    x: {type: "log", domain: X_DOMAIN, label: null},
    y: {type: "log", domain: yDomain, label: null},
    style: {fontFamily: "DejaVu Sans", fontSize: "13px", color: "#000", background: "transparent", overflow: "visible"},
    marks
  });
}

const page = document.getElementById("page");
const lens = [ST1_H1,ST1_H2,ST1_H3,ST1_V1,ST1_V2,ST1_V3,ST2_H1,ST2_H2,ST2_H3,ST2_V1,ST2_V2,ST2_V3].map(a => a.length);

const p1 = panel([ST1_H1,ST1_H2,ST1_H3,ST1_V1,ST1_V2,ST1_V3],
  [null, null, [ST1_H3_BAND], [ST1_V1_BAND], [ST1_V2_BAND], [ST1_V3_BAND]], ADE_1MM,
  [Math.pow(10,-10.245), Math.pow(10,-6.605)], Y1_MAJOR, Y1_LABELS, [-11, -7]);
p1.style.top = "150px";
page.appendChild(p1);
const p2 = panel([ST2_H1,ST2_H2,ST2_H3,ST2_V1,ST2_V2,ST2_V3],
  [[ST2_H1_BAND], null, [ST2_H3_BAND], [ST2_V1_BAND_MID, ST2_V1_BAND], [ST2_V2_BAND_MID, ST2_V2_BAND], [ST2_V3_BAND_MID, ST2_V3_BAND]], ADE_025MM,
  [Math.pow(10,-11.488), Math.pow(10,-6.817)], Y2_MAJOR, Y2_LABELS, [-12, -7]);
p2.style.top = "822px";
page.appendChild(p2);

function text(str, x, y, size, rot) {
  const d = document.createElement("div");
  d.className = "t";
  d.textContent = str;
  d.style.left = x + "px"; d.style.top = y + "px"; d.style.fontSize = size + "px";
  if (rot) d.style.transform = "translate(-50%,-50%) rotate(-90deg)";
  page.appendChild(d);
}
text("CPS Spectra", 1200, 47, 36);
text("1256288400 to 1256289000", 1200, 87, 36);
text("ITMY_ST1", 1230, 173, 28);
text("ITMY_ST2", 1230, 845, 28);
text("Freq (hz)", 1230, 796, 25);
text("Freq (hz)", 1230, 1468, 25);
text("m/rthz", 234, 472, 25, true);
text("m/rthz", 234, 1144, 25, true);
text("calibration only >10hz", 1221, 1512, 16.5);
text("/opt/rtcds/userapps/trunk/sys/h1/scripts/BSC_cps_spectra.py", 2288, 876, 16.5, true);

function legend(names, left, top) {
  const box = document.createElement("div");
  box.className = "leg";
  box.style.left = left + "px"; box.style.top = top + "px";
  box.style.width = "395px"; box.style.height = "306px";
  names.forEach((n, i) => {
    const r = document.createElement("div");
    r.className = "row";
    r.style.top = (22 + 42.9 * i) + "px";
    const s = document.createElement("div");
    s.className = "sw"; s.style.background = COLORS[i];
    const t = document.createElement("div");
    t.className = "lt"; t.textContent = n;
    r.appendChild(s); r.appendChild(t);
    box.appendChild(r);
  });
  page.appendChild(box);
}
legend(ST1_NAMES, 1751, 206);
legend(ST2_NAMES, 1751, 878);

if (lens.some(l => l !== FREQ.length)) text("LEN " + FREQ.length + " : " + lens.join(","), 1200, 1580, 20);
</script></body></html>
